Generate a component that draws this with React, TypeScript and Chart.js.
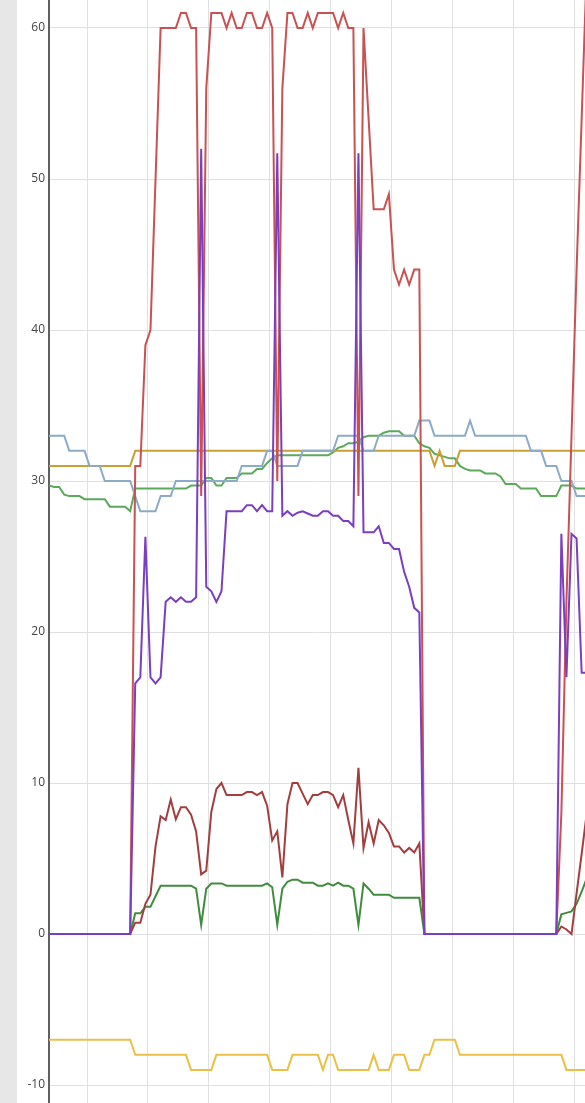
import React, { useEffect, useRef } from "react";
import { Chart, registerables } from "chart.js";

Chart.register(...registerables);

// y values per sample index (0..106)
const purpleSeries = [
  0, 0, 0, 0, 0, 0, 0, 0, 0, 0, 0, 0, 0, 0, 0, 0, 0,
  16.6, 17, 26.3, 17, 16.6, 17, 22, 22.3, 22, 22.3, 22, 22, 22.3,
  52, 23, 22.7, 22, 22.7, 28, 28, 28, 28, 28.4, 28.4, 28, 28.4, 28, 28,
  51.7, 27.7, 28, 27.7, 27.9, 28, 27.85, 27.7, 27.7, 28, 28, 27.7, 27.7, 27.35, 27.35, 27,
  51.7, 26.6, 26.6, 26.6, 27, 25.9, 25.9, 25.5, 25.5, 24, 23, 21.6, 21.3,
  0, 0, 0, 0, 0, 0, 0, 0, 0, 0, 0, 0, 0, 0, 0, 0, 0, 0, 0, 0, 0, 0, 0, 0, 0, 0, 0,
  26.5, 17, 26.5, 26.2, 17.3, 17.3,
];

const redSeries = [
  0, 0, 0, 0, 0, 0, 0, 0, 0, 0, 0, 0, 0, 0, 0, 0, 0,
  31, 31, 39, 40, 50, 60, 60, 60, 60, 61, 61, 60, 60,
  29, 56, 61, 61, 61, 60, 61, 60, 60, 61, 61, 60, 60, 61, 60,
  30, 56, 61, 61, 60, 60, 61, 60, 61, 61, 61, 61, 60, 61, 60, 60,
  29, 60, 54, 48, 48, 48, 49, 44, 43, 44, 43, 44, 44,
  0, 0, 0, 0, 0, 0, 0, 0, 0, 0, 0, 0, 0, 0, 0, 0, 0, 0, 0, 0, 0, 0, 0, 0, 0, 0, 0,
  8, 22, 33, 44, 54, 64,
];

const blueSeries = [
  33, 33, 33, 33, 32, 32, 32, 32, 31, 31, 31, 30, 30, 30, 30, 30, 30,
  29, 28, 28, 28, 28, 29, 29, 29,
  30, 30, 30, 30, 30, 30, 30, 30, 30, 30, 30, 30, 30,
  31, 31, 31, 31, 31, 32, 32, 31, 31, 31, 31, 31,
  32, 32, 32, 32, 32, 32, 32, 33, 33, 33, 33, 33, 32, 32, 32,
  33, 33, 33, 33, 33, 33, 33, 33, 34, 34, 34,
  33, 33, 33, 33, 33, 33, 33, 34,
  33, 33, 33, 33, 33, 33, 33, 33, 33, 33, 33,
  32, 32, 32, 31, 31, 31, 30, 30, 30, 29, 29, 29,
];

const goldSeries = [
  31, 31, 31, 31, 31, 31, 31, 31, 31, 31, 31, 31, 31, 31, 31, 31, 31,
  32, 32, 32, 32, 32, 32, 32, 32, 32, 32, 32, 32, 32, 32, 32, 32, 32, 32, 32, 32,
  32, 32, 32, 32, 32, 32, 32, 32, 32, 32, 32, 32, 32, 32, 32, 32, 32, 32, 32, 32,
  32, 32, 32, 32, 32, 32, 32, 32, 32, 32, 32, 32, 32, 32, 32, 32, 32, 32, 32,
  31, 32, 31, 31, 31,
  32, 32, 32, 32, 32, 32, 32, 32, 32, 32, 32, 32, 32, 32, 32, 32, 32, 32, 32, 32,
  32, 32, 32, 32, 32, 32,
];

const greenSeries = [
  29.7, 29.6, 29.6, 29.1, 29.0, 29.0, 29.0, 28.8, 28.8, 28.8, 28.8, 28.8,
  28.3, 28.3, 28.3, 28.3, 28.0,
  29.5, 29.5, 29.5, 29.5, 29.5, 29.5, 29.5, 29.5, 29.5, 29.5, 29.5,
  29.7, 29.7, 29.7, 30.2, 30.2, 29.7, 29.7, 30.2, 30.2, 30.2, 30.5, 30.5, 30.5,
  30.8, 30.8, 31.2, 31.5,
  31.7, 31.7, 31.7, 31.7, 31.7, 31.7, 31.7, 31.7, 31.7, 31.7, 31.7,
  31.9, 32.2, 32.3, 32.5, 32.5, 32.6, 32.9, 33.0, 33.0, 33.0, 33.2, 33.3, 33.3, 33.3,
  33.0, 33.0, 33.0, 32.5, 32.3, 32.2, 31.8, 31.7, 31.6, 31.5, 31.5, 31.0, 30.8,
  30.7, 30.7, 30.7, 30.5, 30.5, 30.5, 30.3, 29.8, 29.8, 29.8, 29.5, 29.5, 29.5, 29.5,
  29.0, 29.0, 29.0, 29.0, 29.7, 29.7, 29.7, 29.5, 29.5, 29.5,
];

const darkRedSeries = [
  0, 0, 0, 0, 0, 0, 0, 0, 0, 0, 0, 0, 0, 0, 0, 0, 0,
  0.75, 0.75, 2.0, 2.6, 5.8, 7.8, 7.55, 8.9, 7.6, 8.4, 8.4, 7.9, 6.8,
  3.95, 4.2, 8.1, 9.6, 10.0, 9.2, 9.2, 9.2, 9.2, 9.4, 9.4, 9.2, 9.4, 8.5, 6.2,
  6.8, 3.75, 8.6, 10.0, 10.0, 9.3, 8.6, 9.2, 9.2, 9.4, 9.4, 9.2, 8.4, 9.2, 7.55, 6.0,
  11.0, 5.7, 7.4, 6.0, 7.55, 7.2, 6.7, 5.8, 5.8, 5.4, 5.7, 5.4, 6.0,
  0, 0, 0, 0, 0, 0, 0, 0, 0, 0, 0, 0, 0, 0, 0, 0, 0, 0, 0, 0, 0, 0, 0, 0, 0, 0, 0,
  0.5, 0.3, 0, 2.7, 5.3, 8.0,
];

const darkGreenSeries = [
  0, 0, 0, 0, 0, 0, 0, 0, 0, 0, 0, 0, 0, 0, 0, 0, 0,
  1.37, 1.37, 1.8, 1.8, 2.5, 3.2, 3.2, 3.2, 3.2, 3.2, 3.2, 3.2, 3.0,
  0.6, 3.0, 3.35, 3.35, 3.35, 3.2, 3.2, 3.2, 3.2, 3.2, 3.2, 3.2, 3.2, 3.35, 3.1,
  0.6, 3.0, 3.46, 3.6, 3.6, 3.4, 3.4, 3.4, 3.2, 3.2, 3.35, 3.2, 3.4, 3.2, 3.2, 3.0,
  0.6, 3.35, 3.0, 2.6, 2.6, 2.6, 2.6, 2.4, 2.4, 2.4, 2.4, 2.4, 2.4,
  0, 0, 0, 0, 0, 0, 0, 0, 0, 0, 0, 0, 0, 0, 0, 0, 0, 0, 0, 0, 0, 0, 0, 0, 0, 0, 0,
  1.3, 1.4, 1.5, 2.0, 2.8, 3.7,
];

const yellowSeries = [
  -7, -7, -7, -7, -7, -7, -7, -7, -7, -7, -7, -7, -7, -7, -7, -7, -7,
  -8, -8, -8, -8, -8, -8, -8, -8, -8, -8, -8,
  -9, -9, -9, -9, -9,
  -8, -8, -8, -8, -8, -8, -8, -8, -8, -8, -8,
  -9, -9, -9, -9,
  -8, -8, -8, -8, -8, -8,
  -9, -8, -8,
  -9, -9, -9, -9, -9, -9, -9,
  -8, -9, -9, -9, -8, -8, -8, -9, -9, -9, -8, -8,
  -7, -7, -7, -7, -7,
  -8, -8, -8, -8, -8, -8, -8, -8, -8, -8, -8, -8, -8, -8, -8, -8, -8, -8, -8, -8, -8,
  -9, -9, -9, -9, -9,
];

const yTicks = [-10, 0, 10, 20, 30, 40, 50, 60];
const xGridPositions = [7.5, 19.5, 31.5, 43.5, 55.5, 67.5, 79.5, 91.5, 103.5];

export default function App() {
  const ref = useRef<HTMLCanvasElement | null>(null);

  useEffect(() => {
    if (!ref.current) return;
    const toPts = (arr: number[]) => arr.map((y, i) => ({ x: i, y }));
    const ds = (label: string, data: number[], color: string) => ({
      label,
      data: toPts(data),
      borderColor: color,
      backgroundColor: color,
      borderWidth: 2,
      pointRadius: 0,
      pointHoverRadius: 0,
      fill: false,
      tension: 0,
    });

    const chart = new Chart(ref.current, {
      type: "line",
      data: {
        datasets: [
          ds("purple", purpleSeries, "#7a3fc0"),
          ds("red", redSeries, "#c95151"),
          ds("blue", blueSeries, "#8cabc6"),
          ds("gold", goldSeries, "#c9a035"),
          ds("green", greenSeries, "#5ca95c"),
          ds("darkRed", darkRedSeries, "#a23e3e"),
          ds("darkGreen", darkGreenSeries, "#3f8c3f"),
          ds("yellow", yellowSeries, "#e9c048"),
        ] as any,
      },
      options: {
        animation: false,
        responsive: false,
        maintainAspectRatio: false,
        layout: { padding: 0 },
        plugins: {
          legend: { display: false },
          tooltip: { enabled: false },
        },
        scales: {
          x: {
            type: "linear",
            min: 0,
            max: 105.66,
            grid: { color: "#e0e0e0", lineWidth: 1, drawTicks: false },
            border: { display: false },
            ticks: { display: false },
            afterBuildTicks: (s: any) => {
              s.ticks = xGridPositions.map((v) => ({ value: v }));
            },
            afterFit: (s: any) => {
              s.height = 0;
              s.paddingLeft = 0;
              s.paddingRight = 0;
            },
          },
          y: {
            type: "linear",
            min: -11.19,
            max: 61.854,
            grid: { color: "#e0e0e0", lineWidth: 1, drawTicks: false },
            border: { display: true, color: "#606060", width: 2 },
            ticks: {
              padding: 4,
              color: "#444444",
              font: { family: "'Open Sans', sans-serif", size: 12 },
            },
            afterBuildTicks: (s: any) => {
              s.ticks = yTicks.map((v) => ({ value: v }));
            },
            afterFit: (s: any) => {
              s.width = 49;
              s.paddingTop = 0;
              s.paddingBottom = 0;
            },
          },
        } as any,
      },
    });
    return () => chart.destroy();
  }, []);

  return (
    <div
      style={{
        position: "absolute",
        left: 0,
        top: 0,
        width: 585,
        height: 1103,
        overflow: "hidden",
        background: "#ffffff",
      }}
    >
      <div
        style={{
          position: "absolute",
          left: 0,
          top: 0,
          width: 17,
          height: 1103,
          background: "#e7e7e7",
        }}
      />
      <canvas
        ref={ref}
        width={585}
        height={1103}
        style={{ position: "absolute", left: 0, top: 0, width: 585, height: 1103, display: "block" }}
      />
    </div>
  );
}
